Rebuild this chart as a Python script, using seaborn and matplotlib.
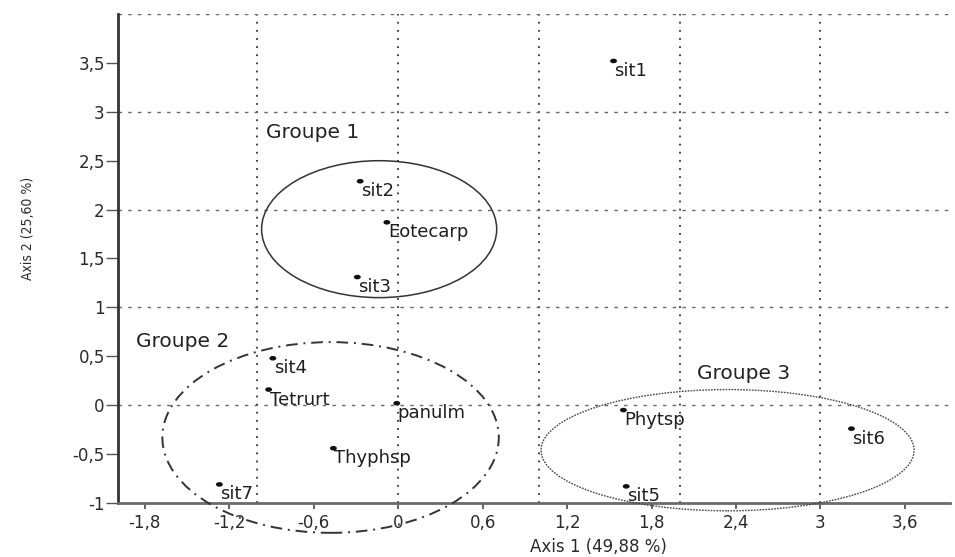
import matplotlib
matplotlib.use("Agg")
import matplotlib.pyplot as plt
import seaborn as sns
import pandas as pd
from matplotlib.patches import Ellipse
from matplotlib.markers import MarkerStyle
from matplotlib.transforms import Affine2D
from matplotlib.ticker import FixedLocator

# ---------------- data ----------------
point_names = ["sit1", "sit2", "Eotecarp", "sit3", "sit4", "Tetrurt",
               "panulm", "Thyphsp", "sit7", "Phytsp", "sit6", "sit5"]
axis1_scores = [1.53, -0.27, -0.08, -0.29, -0.89, -0.92,
                -0.01, -0.46, -1.27, 1.60, 3.22, 1.62]
axis2_scores = [3.52, 2.29, 1.87, 1.31, 0.48, 0.16,
                0.02, -0.44, -0.81, -0.05, -0.24, -0.83]

group_names = ["Groupe 1", "Groupe 2", "Groupe 3"]
group_center_x = [-0.135, -0.48, 2.34]
group_center_y = [1.80, -0.33, -0.46]
group_width = [1.67, 2.39, 2.65]
group_height = [1.40, 1.95, 1.24]
group_label_x = [-0.94, -1.86, 2.12]
group_label_y = [2.79, 0.65, 0.32]

x_ticks = [-1.8, -1.2, -0.6, 0, 0.6, 1.2, 1.8, 2.4, 3, 3.6]
x_tick_labels = ["-1,8", "-1,2", "-0,6", "0", "0,6", "1,2", "1,8", "2,4", "3", "3,6"]
y_ticks = [-1, -0.5, 0, 0.5, 1, 1.5, 2, 2.5, 3, 3.5]
y_tick_labels = ["-1", "-0,5", "0", "0,5", "1", "1,5", "2", "2,5", "3", "3,5"]
x_grid = [-1, 0, 1, 2, 3]
y_grid = [0, 1, 2, 3, 4]
x_label = "Axis 1 (49,88 %)"
y_label = "Axis 2 (25,60 %)"

# ---------------- style ----------------
sns.set_style("white")
plt.rcParams["font.family"] = ["DejaVu Sans"]

df = pd.DataFrame({"name": point_names, "axis1": axis1_scores, "axis2": axis2_scores})

fig = plt.figure(figsize=(9.55, 5.57), dpi=100)
ax = fig.add_axes([118 / 955, 1 - 503 / 557, 832 / 955, 489 / 557])

dot = MarkerStyle("o", transform=Affine2D().scale(1.5, 1.0))
sns.scatterplot(data=df, x="axis1", y="axis2", ax=ax, color="#111111",
                marker=dot, s=11, edgecolor="none", zorder=5, clip_on=False)

for name, x, y in zip(df["name"], df["axis1"], df["axis2"]):
    ax.annotate(name, (x, y), xytext=(1, -1), textcoords="offset pixels",
                ha="left", va="top", fontsize=13, color="#1e1e1e", zorder=6)

styles = [dict(ls="-", lw=1.1, ec="#333333"),
          dict(ls=(0, (6, 3, 1, 3)), lw=1.4, ec="#333333"),
          dict(ls=(0, (1.2, 0.9)), lw=1.0, ec="#444444")]
for cx, cy, w, h, st in zip(group_center_x, group_center_y, group_width, group_height, styles):
    ax.add_patch(Ellipse((cx, cy), w, h, fill=False, clip_on=False, zorder=4, **st))

for g, gx, gy in zip(group_names, group_label_x, group_label_y):
    ax.text(gx, gy, g, ha="left", va="center", fontsize=14.5, color="#222222")

ax.set_xlim(-1.99, 3.92)
ax.set_ylim(-1, 4.0)

ax.set_xticks(x_ticks)
ax.set_xticklabels(x_tick_labels)
ax.set_yticks(y_ticks)
ax.set_yticklabels(y_tick_labels)

ax.xaxis.set_minor_locator(FixedLocator(x_grid))
ax.yaxis.set_minor_locator(FixedLocator(y_grid))
ax.xaxis.remove_overlapping_locs = False
ax.yaxis.remove_overlapping_locs = False
ax.xaxis.grid(True, which="minor", color="#333333", lw=1.3, ls=(0, (1, 3.5)))
ax.yaxis.grid(True, which="minor", color="#666666", lw=1.0, ls=(0, (2.5, 4.5)))
ax.xaxis.grid(False, which="major")
ax.yaxis.grid(False, which="major")
ax.set_axisbelow(True)

ax.tick_params(axis="both", which="minor", length=0)
ax.tick_params(axis="x", which="major", bottom=True, direction="out", length=4.3,
               width=1.3, color="#555555", pad=3.5, labelsize=12, labelcolor="#2a2a2a")
ax.tick_params(axis="y", which="major", left=True, direction="out", length=8.5,
               width=1.0, color="#555555", pad=1, labelsize=12, labelcolor="#2a2a2a")

sns.despine(ax=ax)
ax.spines["left"].set_linewidth(2)
ax.spines["left"].set_color("#333333")
ax.spines["bottom"].set_linewidth(2)
ax.spines["bottom"].set_color("#6a6a6a")

ax.set_xlabel(x_label, fontsize=12, color="#2a2a2a")
ax.xaxis.set_label_coords((598 - 118) / 832, -0.072)
ax.set_ylabel(y_label, fontsize=10, color="#2a2a2a", family="DejaVu Sans",
              fontstretch="condensed")
ax.yaxis.set_label_coords(-0.100, 0.562)

fig.savefig("out.png", dpi=100)
